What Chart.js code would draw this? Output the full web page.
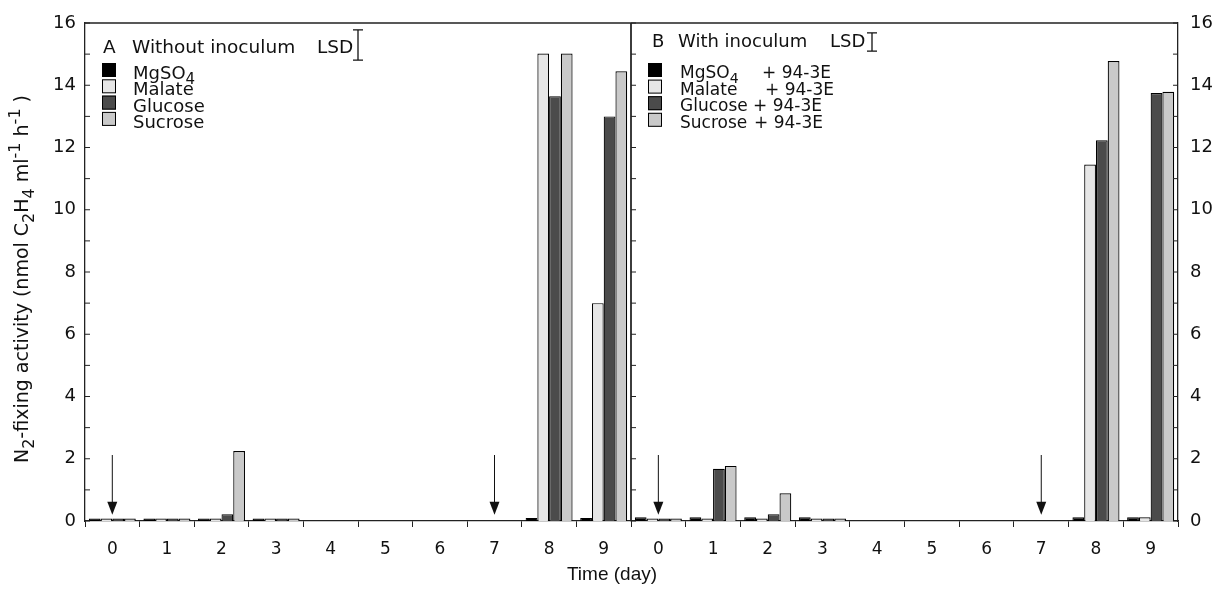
<!DOCTYPE html>
<html>
<head>
<meta charset="utf-8">
<script src="https://cdn.jsdelivr.net/npm/chart.js@4.4.1/dist/chart.umd.min.js"></script>
<style>
  body { margin: 0; background: #fff; }
  #wrap { position: relative; width: 1217px; height: 590px; }
  #wrap canvas { position: absolute; top: 0; }
  #xtitle { position: absolute; left: 0; width: 1224px; top: 563px; text-align: center;
            font: 19px "Liberation Sans", Arial, sans-serif; color: #111; }
</style>
</head>
<body>
<div id="wrap">
  <canvas id="chartA" width="640" height="590" style="left:0"></canvas>
  <canvas id="chartB" width="617" height="590" style="left:600px"></canvas>
  <div id="xtitle">Time (day)</div>
</div>
<script>
// categories and tick labels
const days = ['0', '1', '2', '3', '4', '5', '6', '7', '8', '9'];
const yTicks = [0, 2, 4, 6, 8, 10, 12, 14, 16];
const fillColors = ['#000000', '#e6e6e6', '#4b4b4b', '#c9c9c9'];

// panel A - without inoculum
const mgso4A   = [0.08, 0.08, 0.08, 0.08, null, null, null, null, 0.1, 0.1];
const malateA  = [0.08, 0.08, 0.08, 0.08, null, null, null, null, 15.02, 7.0];
const glucoseA = [0.08, 0.08, 0.22, 0.08, null, null, null, null, 13.65, 13.0];
const sucroseA = [0.08, 0.08, 2.25, 0.08, null, null, null, null, 15.02, 14.45];

// panel B - with inoculum 94-3E
const mgso4B   = [0.12, 0.12, 0.12, 0.12, null, null, null, null, 0.12, 0.12];
const malateB  = [0.08, 0.08, 0.08, 0.08, null, null, null, null, 11.45, 0.12];
const glucoseB = [0.08, 1.68, 0.22, 0.08, null, null, null, null, 12.23, 13.75];
const sucroseB = [0.08, 1.77, 0.89, 0.08, null, null, null, null, 14.78, 13.79];

// LSD bar lengths (A, B) and arrow markers
const lsd = [0.97, 0.58];
const arrowDays = ['0', '7'];
const arrowFrom = 2.12, arrowTo = 0.2;

const FONT = '"DejaVu Sans", Verdana, sans-serif';
const TXT = '#111';

// draws text with sub (1) / sup (2) parts
function richText(ctx, parts, x, y, size, family, align) {
  const fontFor = m => (m ? Math.round(size * 0.85) : size) + 'px ' + family;
  const widths = parts.map(p => { ctx.font = fontFor(p[1]); return ctx.measureText(p[0]).width; });
  const total = widths.reduce((s, w) => s + w, 0);
  let cx = align === 'center' ? x - total / 2 : x;
  ctx.textAlign = 'left';
  ctx.textBaseline = 'alphabetic';
  parts.forEach((p, i) => {
    ctx.font = fontFor(p[1]);
    const dy = p[1] === 1 ? size * 0.3 : p[1] === 2 ? -size * 0.42 : 0;
    ctx.fillText(p[0], cx, y + dy);
    cx += widths[i];
  });
}

function makeDecor(p) {
  return {
    id: 'decor' + p.letter,
    afterDraw(chart) {
      const ctx = chart.ctx, a = chart.chartArea;
      const xs = chart.scales.x, ys = chart.scales.y;
      ctx.save();
      ctx.strokeStyle = '#222';
      ctx.lineWidth = 1.3;
      ctx.beginPath();
      ctx.moveTo(a.left, a.top); ctx.lineTo(a.right, a.top);
      if (p.frameLeft) { ctx.moveTo(a.left, a.top); ctx.lineTo(a.left, a.bottom); }
      if (p.frameRight) { ctx.moveTo(a.right, a.top); ctx.lineTo(a.right, a.bottom); }
      ctx.stroke();

      // inward minor ticks every unit
      ctx.lineWidth = 1;
      ctx.beginPath();
      for (let v = ys.min; v <= ys.max; v++) {
        const py = ys.getPixelForValue(v);
        if (p.ticksLeft) { ctx.moveTo(a.left, py); ctx.lineTo(a.left + 5, py); }
        if (p.ticksRight) { ctx.moveTo(a.right, py); ctx.lineTo(a.right - 5, py); }
      }
      ctx.stroke();

      // arrows
      ctx.fillStyle = '#111';
      ctx.strokeStyle = '#111';
      arrowDays.forEach(d => {
        const ax = xs.getPixelForValue(days.indexOf(d));
        const top = ys.getPixelForValue(arrowFrom), tip = ys.getPixelForValue(arrowTo);
        ctx.beginPath();
        ctx.moveTo(ax, top); ctx.lineTo(ax, tip - 10);
        ctx.stroke();
        ctx.beginPath();
        ctx.moveTo(ax - 5, tip - 13); ctx.lineTo(ax + 5, tip - 13); ctx.lineTo(ax, tip);
        ctx.closePath();
        ctx.fill();
      });

      // title + LSD
      ctx.fillStyle = TXT;
      ctx.font = p.titleSize + 'px ' + FONT;
      ctx.textAlign = 'left';
      ctx.textBaseline = 'alphabetic';
      ctx.fillText(p.letter, p.letterX, p.titleY);
      ctx.fillText(p.title, p.titleX, p.titleY);
      ctx.fillText('LSD', p.lsdX, p.titleY);
      const len = ys.getPixelForValue(0) - ys.getPixelForValue(p.lsd);
      const t = p.lsdMid - len / 2, b = p.lsdMid + len / 2;
      ctx.strokeStyle = '#111';
      ctx.lineWidth = 1.3;
      ctx.beginPath();
      ctx.moveTo(p.lsdBarX, t); ctx.lineTo(p.lsdBarX, b);
      ctx.moveTo(p.lsdBarX - 5, t); ctx.lineTo(p.lsdBarX + 5, t);
      ctx.moveTo(p.lsdBarX - 5, b); ctx.lineTo(p.lsdBarX + 5, b);
      ctx.stroke();

      // legend
      ctx.lineWidth = 1;
      chart.data.datasets.forEach((ds, i) => {
        const bt = p.boxTop + i * p.step;
        ctx.fillStyle = ds.backgroundColor;
        ctx.fillRect(p.boxX, bt, 14, 14);
        ctx.strokeStyle = '#000';
        ctx.strokeRect(p.boxX + 0.5, bt + 0.5, 13, 13);
        ctx.fillStyle = TXT;
        richText(ctx, p.legend[i], p.textX, p.base0 + i * p.step, p.legendSize, FONT, 'left');
        if (p.suffixX) {
          ctx.font = p.legendSize + 'px ' + FONT;
          ctx.fillText('+ 94-3E', p.suffixX[i], p.base0 + i * p.step);
        }
      });

      // y title on left panel
      if (p.yTitle) {
        ctx.translate(28, 279);
        ctx.rotate(-Math.PI / 2);
        ctx.fillStyle = TXT;
        richText(ctx, [['N', 0], ['2', 1], ['-fixing activity (nmol C', 0], ['2', 1], ['H', 0], ['4', 1],
                       [' ml', 0], ['-1', 2], [' h', 0], ['-1', 2], [' )', 0]],
                 0, 0, 19, FONT, 'center');
      }
      ctx.restore();
    }
  };
}

function makeChart(id, series, side, pad, axisW, decor) {
  return new Chart(document.getElementById(id), {
    type: 'bar',
    data: {
      labels: days,
      datasets: series.map((s, i) => ({
        label: String(i),
        data: s,
        backgroundColor: fillColors[i],
        borderColor: '#000',
        borderWidth: 1.2,
        categoryPercentage: 0.86,
        barPercentage: 1.0
      }))
    },
    options: {
      responsive: false,
      animation: false,
      layout: { padding: pad },
      plugins: { legend: { display: false }, tooltip: { enabled: false } },
      scales: {
        x: {
          grid: { offset: true, drawOnChartArea: false, drawTicks: true, tickLength: 6, color: '#222' },
          border: { display: true, color: '#222', width: 1.3 },
          ticks: { color: TXT, font: { family: FONT, size: 17 }, padding: 12, maxRotation: 0 },
          afterFit: s => { s.height = 69; }
        },
        y: {
          position: side,
          min: 0, max: 16,
          afterBuildTicks: s => { s.ticks = yTicks.map(v => ({ value: v })); },
          grid: { display: false, drawTicks: false },
          border: { display: true, color: '#222', width: 1.3 },
          ticks: { color: TXT, font: { family: FONT, size: 18 }, padding: side === 'left' ? 9 : 12 },
          afterFit: s => { s.width = axisW; }
        }
      }
    },
    plugins: [makeDecor(decor)]
  });
}

makeChart('chartA', [mgso4A, malateA, glucoseA, sucroseA], 'left',
  { top: 23, right: 9, bottom: 0, left: 0 }, 85, {
    letter: 'A', letterX: 103, title: 'Without inoculum', titleX: 132, titleY: 53, titleSize: 18.5,
    lsdX: 317, lsdBarX: 358, lsdMid: 45, lsd: lsd[0],
    boxX: 102, boxTop: 63, textX: 133, base0: 79, step: 16.3, legendSize: 18,
    legend: [[['MgSO', 0], ['4', 1]], [['Malate', 0]], [['Glucose', 0]], [['Sucrose', 0]]],
    frameLeft: false, frameRight: true, ticksLeft: true, ticksRight: false, yTitle: true
  });

makeChart('chartB', [mgso4B, malateB, glucoseB, sucroseB], 'right',
  { top: 23, right: 0, bottom: 0, left: 31 }, 39, {
    letter: 'B', letterX: 52, title: 'With inoculum', titleX: 78, titleY: 47, titleSize: 18,
    lsdX: 230, lsdBarX: 272, lsdMid: 42, lsd: lsd[1],
    boxX: 48, boxTop: 63, textX: 80, base0: 78, step: 16.6, legendSize: 17,
    legend: [[['MgSO', 0], ['4', 1]], [['Malate', 0]], [['Glucose', 0]], [['Sucrose', 0]]],
    suffixX: [162, 165, 153, 154],
    frameLeft: true, frameRight: false, ticksLeft: true, ticksRight: true, yTitle: false
  });
</script>
</body>
</html>
